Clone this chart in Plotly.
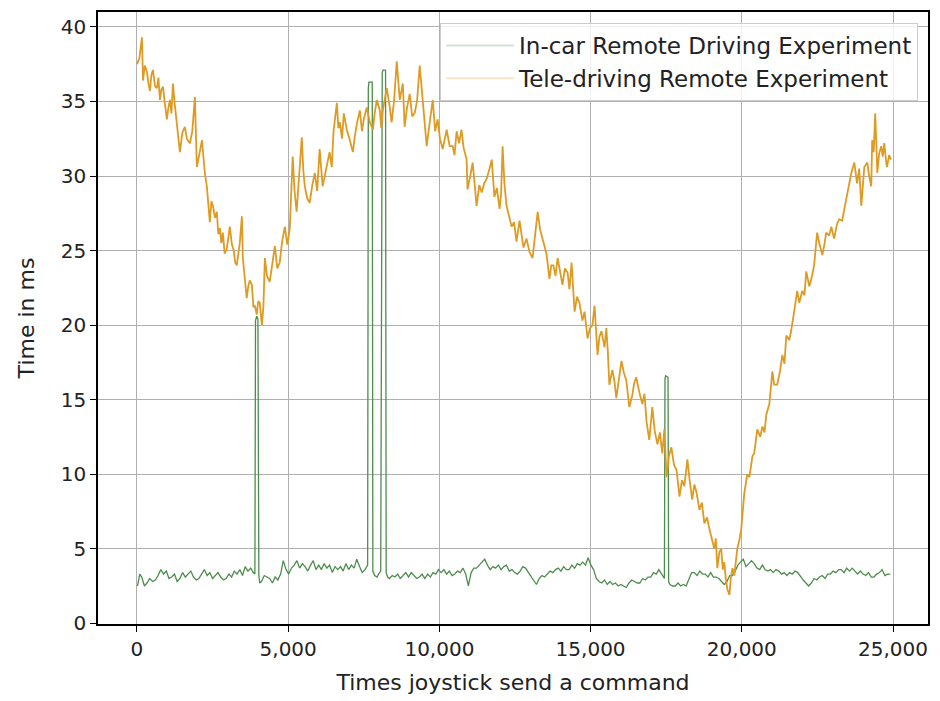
import plotly.graph_objects as go

# ---- Tele-driving Remote Experiment (orange) ----
tele_x = [0, 80, 165, 200, 260, 330, 380, 430, 480, 530, 600, 660, 710, 760, 810, 860, 920, 990, 1040,
          1090, 1140, 1190, 1240, 1290, 1350, 1420, 1500, 1585, 1650, 1750, 1830, 1915, 1980, 2060, 2150,
          2245, 2310, 2410, 2460, 2510, 2580, 2640, 2690, 2740, 2790, 2840, 2900, 2970, 3020, 3070, 3140,
          3200, 3250, 3300, 3400, 3470, 3500, 3560, 3630, 3680, 3730, 3800, 3850, 3900, 3960, 4010, 4060,
          4130, 4180, 4230, 4300, 4390, 4470, 4560, 4640, 4720, 4800, 4890, 4970, 5050, 5150, 5210, 5280,
          5370, 5450, 5500, 5550, 5630, 5710, 5800, 5880, 5960, 6040, 6140, 6210, 6280, 6370, 6440, 6500,
          6610, 6660, 6710, 6780, 6840, 6940, 7040, 7140, 7200, 7270, 7370, 7440, 7500, 7600, 7700, 7800,
          7860, 7930, 8030, 8080, 8130, 8200, 8260, 8360, 8420, 8500, 8590, 8690, 8790, 8850, 8930, 9020,
          9100, 9180, 9260, 9350, 9450, 9520, 9580, 9680, 9780, 9860, 9940, 10020, 10110, 10240, 10340,
          10440, 10500, 10570, 10650, 10730, 10800, 10900, 10930, 11020, 11100, 11160, 11230, 11320, 11400,
          11480, 11560, 11660, 11730, 11820, 11900, 11990, 12040, 12090, 12150, 12220, 12300, 12390, 12470,
          12550, 12650, 12720, 12780, 12880, 12980, 13080, 13160, 13250, 13330, 13410, 13540, 13640, 13700,
          13770, 13840, 13910, 14000, 14070, 14150, 14240, 14300, 14370, 14470, 14550, 14630, 14730, 14800,
          14900, 14980, 15060, 15130, 15230, 15290, 15360, 15460, 15520, 15570, 15620, 15720, 15790, 15850,
          15940, 16020, 16100, 16180, 16280, 16380, 16440, 16510, 16610, 16710, 16780, 16850, 16940, 17040,
          17120, 17210, 17290, 17370, 17440, 17510, 17590, 17670, 17760, 17840, 17940, 18020, 18100, 18200,
          18280, 18360, 18430, 18500, 18600, 18680, 18760, 18850, 18930, 19030, 19090, 19140, 19190, 19260,
          19320, 19370, 19420, 19470, 19520, 19590, 19640, 19690, 19750, 19800, 19850, 19920, 19980, 20080,
          20180, 20250, 20350, 20410, 20510, 20610, 20680, 20750, 20810, 20910, 21010, 21070, 21170, 21270,
          21340, 21410, 21470, 21570, 21630, 21730, 21830, 21900, 22000, 22070, 22130, 22230, 22300, 22390,
          22490, 22560, 22660, 22730, 22790, 22890, 22960, 23050, 23150, 23220, 23320, 23390, 23490, 23550,
          23620, 23720, 23810, 23880, 23950, 24050, 24150, 24210, 24280, 24310, 24360, 24410, 24480, 24540,
          24610, 24660, 24710, 24770, 24800, 24870, 24930]
tele_y = [37.5, 37.9, 39.3, 36.4, 37.4, 37.0, 36.2, 35.7, 36.8, 37.1, 36.0, 35.9, 36.6, 35.1, 35.8, 36.0,
          34.9, 33.8, 34.6, 35.1, 34.2, 36.2, 35.0, 34.0, 32.6, 31.6, 32.9, 33.3, 32.5, 32.2, 33.0, 35.3,
          30.6, 31.5, 32.4, 30.2, 29.3, 26.9, 28.3, 28.0, 27.2, 27.6, 26.1, 26.5, 25.5, 26.2, 24.8, 25.1,
          26.0, 26.6, 25.4, 25.0, 24.2, 24.0, 25.5, 27.3, 24.5, 23.2, 21.8, 22.6, 23.0, 22.7, 21.2, 21.3,
          20.7, 21.6, 21.5, 20.0, 21.2, 24.5, 23.3, 22.9, 24.1, 25.3, 23.8, 24.2, 25.6, 26.6, 25.4, 26.4,
          31.3, 29.0, 27.6, 30.5, 32.6, 30.4, 29.3, 28.5, 28.2, 29.4, 30.2, 29.0, 31.8, 29.3, 30.0, 30.5,
          31.6, 30.6, 33.0, 34.9, 33.2, 33.6, 32.5, 34.2, 33.1, 32.4, 31.6, 32.6, 33.5, 34.4, 33.0, 33.8,
          34.6, 33.6, 33.1, 34.2, 35.1, 34.4, 33.2, 34.4, 35.3, 35.9, 34.6, 33.6, 35.0, 37.7, 35.1, 36.2,
          33.3, 34.6, 35.5, 34.0, 34.2, 35.0, 37.4, 35.1, 33.8, 32.0, 33.6, 35.1, 33.0, 33.8, 32.5, 31.8,
          33.1, 32.0, 32.0, 31.4, 33.0, 32.2, 33.1, 31.9, 31.1, 29.1, 30.0, 30.9, 29.6, 28.0, 29.4, 28.9,
          29.5, 29.8, 30.5, 31.1, 28.6, 29.2, 27.8, 28.8, 32.0, 29.5, 28.0, 27.3, 26.6, 26.9, 25.6, 27.0,
          25.9, 25.2, 25.8, 24.9, 24.5, 26.0, 27.6, 26.4, 25.8, 24.8, 23.1, 24.0, 24.0, 23.3, 24.5, 23.5,
          22.7, 23.8, 23.5, 22.4, 24.2, 20.9, 21.9, 21.5, 20.3, 20.9, 19.1, 19.8, 20.0, 21.3, 18.0, 19.2,
          19.6, 18.5, 19.8, 18.2, 16.0, 17.0, 16.2, 15.1, 16.4, 17.6, 16.8, 16.3, 14.5, 15.3, 16.1, 16.5,
          15.5, 14.7, 15.4, 13.5, 12.3, 14.5, 12.9, 12.0, 12.8, 11.4, 13.0, 9.8, 11.2, 11.8, 10.6, 10.3,
          8.5, 9.6, 9.2, 11.0, 9.5, 8.3, 9.3, 8.8, 7.6, 8.1, 6.7, 7.1, 6.3, 5.5, 5.0, 5.7, 3.7, 4.8, 5.0,
          3.6, 4.1, 3.0, 2.3, 1.9, 3.1, 3.7, 3.2, 4.1, 5.0, 5.6, 6.3, 8.7, 10.0, 9.8, 11.2, 11.4, 13.0,
          12.5, 13.2, 12.8, 14.0, 14.7, 16.9, 16.0, 16.0, 17.0, 18.0, 17.4, 19.3, 19.0, 19.6, 20.9, 22.3,
          21.5, 22.3, 22.0, 23.6, 22.6, 23.1, 24.0, 26.2, 25.5, 24.7, 25.4, 26.2, 26.0, 26.6, 25.8, 26.8,
          27.1, 27.0, 27.8, 28.9, 29.5, 30.2, 30.9, 29.5, 30.5, 28.0, 30.6, 30.9, 30.0, 29.3, 32.4, 31.6,
          34.2, 30.2, 31.5, 32.0, 31.3, 32.2, 31.0, 30.6, 31.4, 31.1]

# ---- In-car Remote Driving Experiment (green), 10 values per row ----
incar_x = [0, 30, 90, 158, 248, 330, 420, 520, 608, 700,
           788, 880, 970, 1060, 1148, 1240, 1328, 1420, 1510, 1600,
           1688, 1780, 1870, 1960, 2048, 2140, 2228, 2320, 2410, 2500,
           2588, 2680, 2770, 2860, 2948, 3040, 3130, 3220, 3308, 3400,
           3490, 3578, 3670, 3760, 3848, 3900, 3920, 3960, 4000, 4030,
           4060, 4118, 4210, 4300, 4388, 4480, 4570, 4658, 4750, 4838,
           4930, 5018, 5110, 5200, 5288, 5380, 5470, 5558, 5650, 5740,
           5828, 5920, 6010, 6098, 6190, 6280, 6368, 6460, 6550, 6638,
           6730, 6820, 6908, 7000, 7090, 7180, 7268, 7360, 7448, 7540,
           7628, 7650, 7670, 7780, 7800, 7860, 7940, 7988, 8060, 8110,
           8130, 8220, 8240, 8290, 8348, 8440, 8530, 8620, 8708, 8800,
           8890, 8980, 9068, 9160, 9250, 9340, 9428, 9520, 9610, 9700,
           9788, 9880, 9970, 10060, 10148, 10240, 10330, 10420, 10508, 10600,
           10690, 10778, 10870, 10958, 11050, 11140, 11228, 11320, 11410, 11498,
           11590, 11680, 11770, 11858, 11950, 12040, 12130, 12218, 12310, 12400,
           12490, 12578, 12670, 12760, 12848, 12940, 13030, 13120, 13208, 13300,
           13390, 13480, 13568, 13660, 13750, 13840, 13928, 14020, 14110, 14200,
           14288, 14380, 14470, 14560, 14648, 14740, 14830, 14918, 15010, 15098,
           15190, 15280, 15368, 15460, 15550, 15640, 15728, 15820, 15910, 16000,
           16090, 16178, 16270, 16360, 16450, 16540, 16628, 16720, 16810, 16900,
           16988, 17080, 17170, 17258, 17350, 17440, 17460, 17480, 17560, 17580,
           17620, 17710, 17798, 17890, 17980, 18070, 18158, 18250, 18340, 18428,
           18520, 18610, 18700, 18788, 18880, 18970, 19060, 19148, 19240, 19330,
           19418, 19510, 19600, 19688, 19780, 19870, 19960, 20048, 20140, 20230,
           20320, 20408, 20500, 20590, 20680, 20768, 20860, 20950, 21040, 21128,
           21220, 21310, 21400, 21488, 21580, 21670, 21760, 21848, 21940, 22030,
           22120, 22208, 22300, 22390, 22480, 22568, 22660, 22750, 22840, 22928,
           23020, 23110, 23200, 23288, 23380, 23470, 23560, 23648, 23740, 23830,
           23920, 24008, 24100, 24190, 24280, 24368, 24460, 24550, 24638, 24730,
           24820, 24908]
incar_y = [2.5, 2.6, 3.3, 3.1, 2.5, 2.7, 3.0, 2.8, 2.9, 3.2,
           3.6, 3.3, 3.5, 3.0, 3.1, 3.3, 2.8, 3.0, 3.4, 3.1,
           3.3, 3.5, 3.1, 2.9, 3.0, 3.3, 3.6, 3.2, 3.4, 3.0,
           3.2, 3.4, 3.1, 2.9, 3.0, 3.3, 3.1, 3.5, 3.3, 3.6,
           3.2, 3.8, 3.5, 3.7, 3.4, 3.3, 20.3, 20.6, 20.4, 3.2,
           2.7, 2.8, 3.2, 3.1, 3.0, 2.7, 3.1, 2.9, 3.3, 4.2,
           3.6, 3.3, 3.7, 3.9, 4.2, 3.7, 4.0, 3.8, 3.5, 3.9,
           4.2, 3.6, 3.9, 3.6, 4.0, 3.7, 3.9, 3.4, 3.8, 3.6,
           3.8, 3.5, 4.0, 3.6, 3.9, 3.7, 4.3, 3.8, 3.4, 3.6,
           3.9, 35.9, 36.3, 36.3, 3.5, 3.2, 3.1, 3.3, 3.5, 36.9,
           37.1, 37.1, 3.4, 3.1, 3.0, 3.2, 3.1, 3.3, 3.0, 3.2,
           3.4, 3.1, 3.4, 3.2, 3.0, 3.1, 3.3, 3.0, 3.3, 3.1,
           3.4, 3.3, 3.6, 3.4, 3.6, 3.3, 3.5, 3.2, 3.3, 3.5,
           3.4, 3.7, 3.3, 2.5, 3.4, 3.7, 3.7, 3.9, 4.1, 4.3,
           3.9, 3.6, 3.8, 3.7, 3.9, 3.6, 3.8, 3.9, 3.5, 3.6,
           3.4, 3.3, 3.5, 3.8, 3.7, 3.4, 3.2, 2.9, 2.6, 3.0,
           3.2, 3.1, 3.3, 3.5, 3.4, 3.6, 3.7, 3.5, 3.8, 3.6,
           3.6, 3.9, 3.7, 4.0, 3.9, 4.1, 3.9, 4.4, 3.9, 3.6,
           3.0, 2.8, 2.7, 2.9, 2.6, 2.8, 2.6, 2.7, 2.5, 2.6,
           2.5, 2.4, 2.7, 2.9, 2.8, 2.7, 2.7, 3.0, 2.9, 3.1,
           3.1, 3.4, 3.3, 3.6, 3.3, 3.0, 16.4, 16.6, 16.5, 2.8,
           2.6, 2.5, 2.5, 2.7, 2.5, 2.6, 2.5, 3.0, 3.4, 3.4,
           3.2, 3.5, 3.3, 3.3, 3.1, 3.4, 3.1, 3.1, 3.0, 2.8,
           2.6, 2.8, 3.2, 3.2, 3.5, 3.9, 4.1, 4.3, 3.8, 4.0,
           4.2, 4.0, 3.7, 3.6, 3.9, 3.6, 3.5, 3.6, 3.4, 3.6,
           3.5, 3.3, 3.4, 3.2, 3.4, 3.3, 3.5, 3.4, 3.1, 2.9,
           2.7, 2.5, 2.7, 3.0, 2.9, 3.1, 3.2, 3.0, 3.3, 3.3,
           3.5, 3.4, 3.6, 3.6, 3.4, 3.7, 3.5, 3.7, 3.5, 3.3,
           3.5, 3.3, 3.2, 3.4, 3.1, 3.1, 3.3, 3.4, 3.6, 3.2,
           3.3, 3.3]

LEG_IN = "In-car Remote Driving Experiment"
LEG_TELE = "Tele-driving Remote Experiment"

x_tick_vals = [0, 5000, 10000, 15000, 20000, 25000]
x_tick_text = ["0", "5,000", "10,000", "15,000", "20,000", "25,000"]
y_tick_vals = [0, 5, 10, 15, 20, 25, 30, 35, 40]

GREEN = "rgb(78,140,78)"
ORANGE = "rgb(222,155,35)"

fig = go.Figure()
fig.add_trace(go.Scatter(x=incar_x, y=incar_y, mode="lines", showlegend=False,
                         line=dict(color=GREEN, width=1.3), hoverinfo="skip"))
fig.add_trace(go.Scatter(x=tele_x, y=tele_y, mode="lines", showlegend=False,
                         line=dict(color=ORANGE, width=1.8), hoverinfo="skip"))
# legend entries (faint line samples, as in the reference)
fig.add_trace(go.Scatter(x=[None], y=[None], mode="lines", name=LEG_IN,
                         line=dict(color="rgba(78,140,78,0.25)", width=2)))
fig.add_trace(go.Scatter(x=[None], y=[None], mode="lines", name=LEG_TELE,
                         line=dict(color="rgba(222,158,38,0.25)", width=2)))

axis_common = dict(showgrid=True, gridcolor="#b0b0b0", gridwidth=1.3,
                   showline=True, linecolor="black", linewidth=1.5, mirror=True,
                   ticks="outside", ticklen=6, tickwidth=1.3, tickcolor="black",
                   zeroline=False, tickfont=dict(size=20, color="#222"))

fig.update_layout(
    width=940, height=701,
    margin=dict(l=98, r=11, t=10, b=72),
    paper_bgcolor="white", plot_bgcolor="white",
    font=dict(family="DejaVu Sans", color="#222"),
    xaxis=dict(range=[-1288, 26156], tickvals=x_tick_vals, ticktext=x_tick_text,
               title=dict(text="Times joystick send a command", font=dict(size=22), standoff=15),
               **axis_common),
    yaxis=dict(range=[-0.05, 41.0], tickvals=y_tick_vals,
               title=dict(text="Time in ms", font=dict(size=22), standoff=20),
               **axis_common),
    legend=dict(x=0.988, y=0.982, xanchor="right", yanchor="top",
                bgcolor="rgba(255,255,255,0.8)", bordercolor="#cccccc", borderwidth=1,
                font=dict(size=23, color="#222"), itemwidth=68, tracegroupgap=0),
)

fig.write_html("out.html")
